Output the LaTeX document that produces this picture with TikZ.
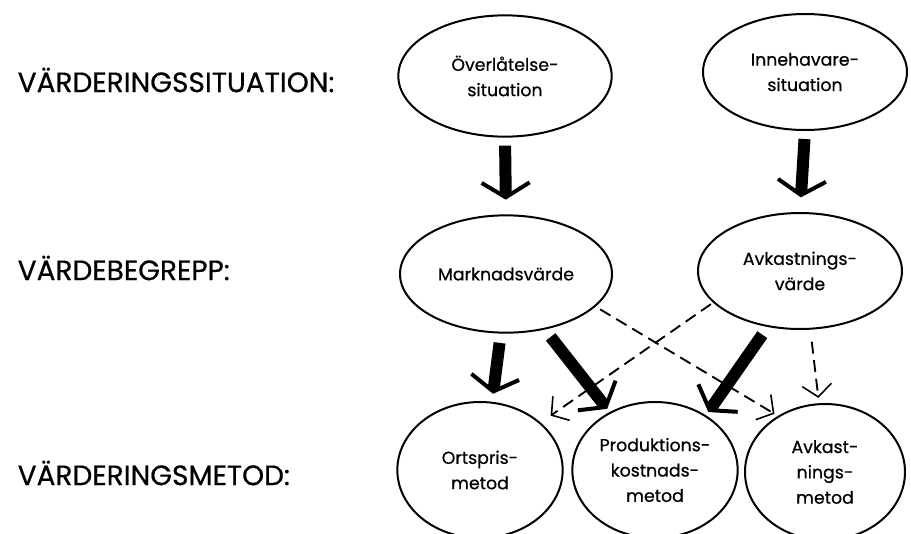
\documentclass[tikz,border=0pt]{standalone}
\usepackage{fontspec}
\setmainfont{Poppins}[FakeBold=0.6]
\usetikzlibrary{shapes.geometric,arrows.meta}
\tikzset{
  oval/.style={ellipse,draw,line width=1.5pt,inner sep=0pt,align=center,font=\fontsize{13}{19}\selectfont},
  heavy/.style={line width=9pt,-{Straight Barb[length=11pt,width=36pt,line width=3pt]}},
  weak/.style={line width=1.4pt,dash pattern=on 9pt off 5pt,-{Straight Barb[length=9pt,width=22pt,line width=1.2pt]}},
  level/.style={anchor=west,font=\fontsize{21}{24}\selectfont}
}
\begin{document}
\begin{tikzpicture}[x=0.75pt,y=-0.75pt]
\useasboundingbox (0,0) rectangle (911,533);

% levels
\foreach \n/\y/\t in {sit/80/VÄRDERINGSSITUATION:,beg/268/VÄRDEBEGREPP:,met/473/VÄRDERINGSMETOD:}{ \node[level] (\n) at (13,\y){\t};}

% situations
\node[oval,minimum width=160pt,minimum height=91pt] (ovl) at (505,76){Överlåtelse-\\situation};
\node[oval,minimum width=153pt,minimum height=87pt] (inn) at (805,72){Innehavare-\\situation};

% values
\node[oval,minimum width=159pt,minimum height=88pt] (mark) at (506,274){Marknadsvärde};
\node[oval,minimum width=153pt,minimum height=87pt] (avkv) at (800,271){Avkastnings-\\värde};

% methods
\node[oval,minimum width=124pt,minimum height=102pt] (orts) at (480,470){Ortspris-\\metod};
\node[oval,minimum width=124pt,minimum height=102pt] (prod) at (655,470){Produktions-\\kostnads-\\metod};
\node[oval,minimum width=120pt,minimum height=102pt] (avkm) at (825,472){Avkast-\\nings-\\metod};

\draw[heavy,shorten <=6pt,shorten >=11pt] (ovl.south) -- (mark.north);
\draw[heavy,shorten <=6pt,shorten >=11pt] (inn.south) -- (avkv.north);
\draw[heavy,shorten <=7pt,shorten >=6pt] (mark.-95) -- (orts.80);
\draw[heavy,shorten <=7pt,shorten >=3pt] (mark.-55) -- (prod.128);
\draw[heavy,shorten <=7pt,shorten >=3pt] (avkv.-120) -- (prod.47);

\draw[weak,shorten <=4pt,shorten >=3pt] (mark.-20) -- (avkm.130);
\draw[weak,shorten <=2pt,shorten >=9pt] (avkv.-160) -- (orts.38);
\draw[weak,shorten <=9pt,shorten >=4pt] (avkv.-80) -- (avkm.95);

\end{tikzpicture}
\end{document}
